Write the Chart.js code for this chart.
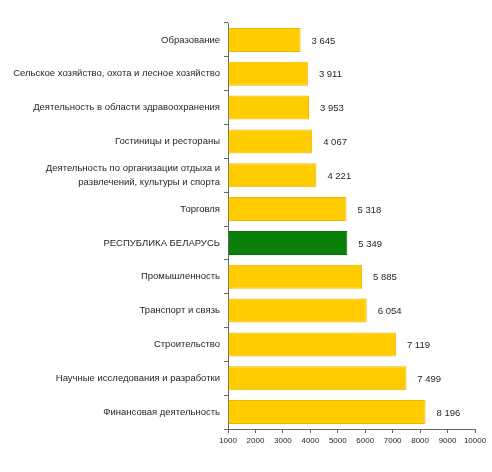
<!DOCTYPE html>
<html>
<head>
<meta charset="utf-8">
<script src="https://cdn.jsdelivr.net/npm/chart.js@4"></script>
<style>
  html, body { margin: 0; padding: 0; background: #fff; }
  #wrap { width: 492px; height: 472px; }
</style>
</head>
<body>
<div id="wrap"><canvas id="chart" width="492" height="472"></canvas></div>
<script>
const categories = [
    'Образование',
    'Сельское хозяйство, охота и лесное хозяйство',
    'Деятельность в области здравоохранения',
    'Гостиницы и рестораны',
    ['Деятельность по организации отдыха и', 'развлечений, культуры и спорта'],
    'Торговля',
    'РЕСПУБЛИКА БЕЛАРУСЬ',
    'Промышленность',
    'Транспорт и связь',
    'Строительство',
    'Научные исследования и разработки',
    'Финансовая деятельность'
];
const wages = [3645, 3911, 3953, 4067, 4221, 5318, 5349, 5885, 6054, 7119, 7499, 8196];
const highlightIndex = 6;
const xTicks = [1000, 2000, 3000, 4000, 5000, 6000, 7000, 8000, 9000, 10000];

const ctx = document.getElementById('chart').getContext('2d');

// подписи значений справа от столбцов ("3 645")
const valueLabels = {
    id: 'valueLabels',
    afterDatasetsDraw(chart) {
        const c = chart.ctx;
        const meta = chart.getDatasetMeta(0);
        c.save();
        c.font = '9.5px "Liberation Sans", Arial, sans-serif';
        c.fillStyle = '#262626';
        c.textAlign = 'left';
        c.textBaseline = 'middle';
        meta.data.forEach((bar, i) => {
            const txt = String(wages[i]).replace(/\B(?=(\d{3})+(?!\d))/g, ' ');
            c.fillText(txt, bar.x + 11, bar.y + 1);
        });
        c.restore();
    }
};

const config = {
    type: 'bar',
    data: {
        labels: categories,
        datasets: [{
            data: wages,
            base: 1000,
            backgroundColor: wages.map((v, i) => i === highlightIndex ? '#0a7f0a' : '#ffcc00'),
            borderColor: wages.map((v, i) => i === highlightIndex ? '#087008' : '#ebb800'),
            borderWidth: 1,
            borderSkipped: 'start',
            barPercentage: 0.71,
            categoryPercentage: 1
        }]
    },
    options: {
        indexAxis: 'y',
        responsive: false,
        animation: false,
        layout: { padding: { top: 23, right: 17, left: 0, bottom: 0 } },
        plugins: {
            legend: { display: false },
            tooltip: { enabled: false }
        },
        scales: {
            x: {
                type: 'linear',
                min: 1000,
                max: 10000,
                afterBuildTicks: (scale) => {
                    scale.ticks = xTicks.map(v => ({ value: v }));
                },
                afterFit: (scale) => { scale.height = 43; },
                grid: {
                    drawOnChartArea: false,
                    drawTicks: true,
                    tickLength: 4,
                    color: '#666'
                },
                border: { color: '#666', width: 1 },
                ticks: {
                    padding: 3,
                    color: '#262626',
                    maxRotation: 0,
                    autoSkip: false,
                    callback: (v) => String(v),
                    font: { family: '"Liberation Sans", Arial, sans-serif', size: 8 }
                }
            },
            y: {
                afterFit: (scale) => { scale.width = 228; },
                grid: {
                    offset: true,
                    drawOnChartArea: false,
                    drawTicks: true,
                    tickLength: 4,
                    color: '#666'
                },
                border: { color: '#666', width: 1 },
                ticks: {
                    padding: 4,
                    color: '#262626',
                    autoSkip: false,
                    font: { family: '"Liberation Sans", Arial, sans-serif', size: 9.5, lineHeight: 1.45 }
                }
            }
        }
    },
    plugins: [valueLabels]
};

const wageChart = new Chart(ctx, config);
</script>
</body>
</html>
